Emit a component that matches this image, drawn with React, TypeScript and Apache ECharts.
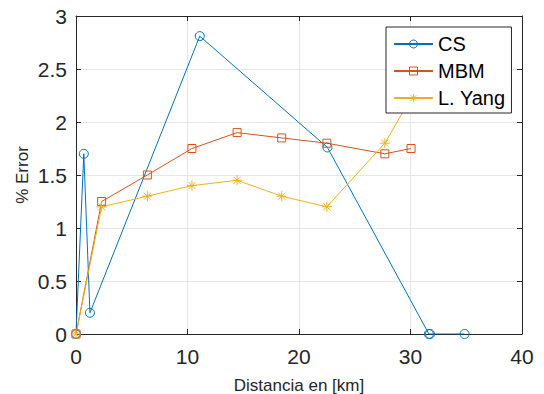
import React, { useEffect, useRef } from "react";
import * as echarts from "echarts";

const seriesNames = ["CS", "MBM", "L. Yang"];
const csX = [0, 0.7, 1.25, 11.1, 22.55, 31.65, 31.75, 34.85];
const csY = [0, 1.7, 0.2, 2.81, 1.76, 0, 0, 0];
const mbmX = [0, 2.3, 6.4, 10.4, 14.45, 18.45, 22.5, 27.7, 30.05];
const mbmY = [0, 1.25, 1.5, 1.75, 1.9, 1.85, 1.8, 1.7, 1.75];
const yangX = [0, 2.3, 6.4, 10.4, 14.45, 18.45, 22.5, 27.7, 31];
const yangY = [0, 1.2, 1.3, 1.4, 1.45, 1.3, 1.2, 1.8, 2.4];
const xTicks = [0, 10, 20, 30, 40];
const yTicks = [0, 0.5, 1, 1.5, 2, 2.5, 3];

const colors = ["#0072BD", "#D95319", "#EDB120"];
const FONT = "'Liberation Sans', Arial, Helvetica, sans-serif";
const AXC = "#262626";
const ASTERISK = "path://M0 5 L10 5 M5 0 L5 10 M1.5 1.5 L8.5 8.5 M8.5 1.5 L1.5 8.5";

function pairs(xs: number[], ys: number[]) {
  return xs.map((x, i) => [x, ys[i]]);
}

export default function App() {
  const ref = useRef<HTMLDivElement>(null);
  useEffect(() => {
    if (!ref.current) return;
    const chart = echarts.init(ref.current, undefined, { renderer: "svg" });
    const axisCommon = {
      type: "value" as const,
      axisLine: { show: true, onZero: false, lineStyle: { color: AXC, width: 1 } },
      axisTick: { show: true, inside: true, length: 5, lineStyle: { color: AXC } },
    };
    const mkSeries = (i: number, xs: number[], ys: number[], symbol: string, size: number) => ({
      name: seriesNames[i],
      type: "line",
      data: pairs(xs, ys),
      symbol,
      symbolSize: size,
      showAllSymbol: true,
      lineStyle: { color: colors[i], width: 1 },
      itemStyle: { color: "transparent", borderColor: colors[i], borderWidth: 1 },
      emphasis: { disabled: true },
    });
    chart.setOption({
      animation: false,
      backgroundColor: "#ffffff",
      textStyle: { fontFamily: FONT },
      grid: {
        left: 76,
        right: 22,
        top: 16,
        bottom: 60,
        containLabel: false,
        outerBoundsMode: "none",
      },
      legend: {
        orient: "vertical",
        left: 386,
        top: 27,
        padding: [7, 6, 5, 7],
        itemWidth: 39,
        itemHeight: 10,
        itemGap: 7,
        backgroundColor: "#ffffff",
        borderColor: AXC,
        borderWidth: 1,
        borderRadius: 0,
        textStyle: { fontSize: 20, color: "#000000", fontFamily: FONT, lineHeight: 20 },
        data: seriesNames.map((n, i) => ({
          name: n,
          itemStyle: { color: "transparent", borderColor: colors[i], borderWidth: 1 },
        })),
      },
      xAxis: [
        {
          ...axisCommon,
          min: 0,
          max: 40,
          interval: 10,
          position: "bottom",
          name: "Distancia en [km]",
          nameLocation: "middle",
          nameGap: 43,
          nameMoveOverlap: false,
          nameTextStyle: { fontSize: 17, color: AXC, fontFamily: FONT },
          axisLabel: { fontSize: 21, color: AXC, margin: 12, fontFamily: FONT, customValues: xTicks },
          splitLine: { show: true, lineStyle: { color: "#e6e6e6", width: 1 } },
        },
        {
          ...axisCommon,
          min: 0,
          max: 40,
          interval: 10,
          position: "top",
          axisLabel: { show: false },
          splitLine: { show: false },
        },
      ],
      yAxis: [
        {
          ...axisCommon,
          min: 0,
          max: 3,
          interval: 0.5,
          position: "left",
          name: "% Error",
          nameLocation: "middle",
          nameGap: 45,
          nameMoveOverlap: false,
          nameTextStyle: { fontSize: 17, color: AXC, fontFamily: FONT },
          axisLabel: { fontSize: 21, color: AXC, margin: 9, fontFamily: FONT, customValues: yTicks },
          splitLine: { show: true, lineStyle: { color: "#e6e6e6", width: 1 } },
        },
        {
          ...axisCommon,
          min: 0,
          max: 3,
          interval: 0.5,
          position: "right",
          axisLabel: { show: false },
          splitLine: { show: false },
        },
      ],
      series: [
        mkSeries(0, csX, csY, "circle", 9),
        mkSeries(1, mbmX, mbmY, "rect", 8),
        mkSeries(2, yangX, yangY, ASTERISK, 10),
      ],
    });
    return () => chart.dispose();
  }, []);
  return (
    <div
      ref={ref}
      style={{ position: "absolute", left: 0, top: 0, width: 544, height: 394 }}
    />
  );
}
